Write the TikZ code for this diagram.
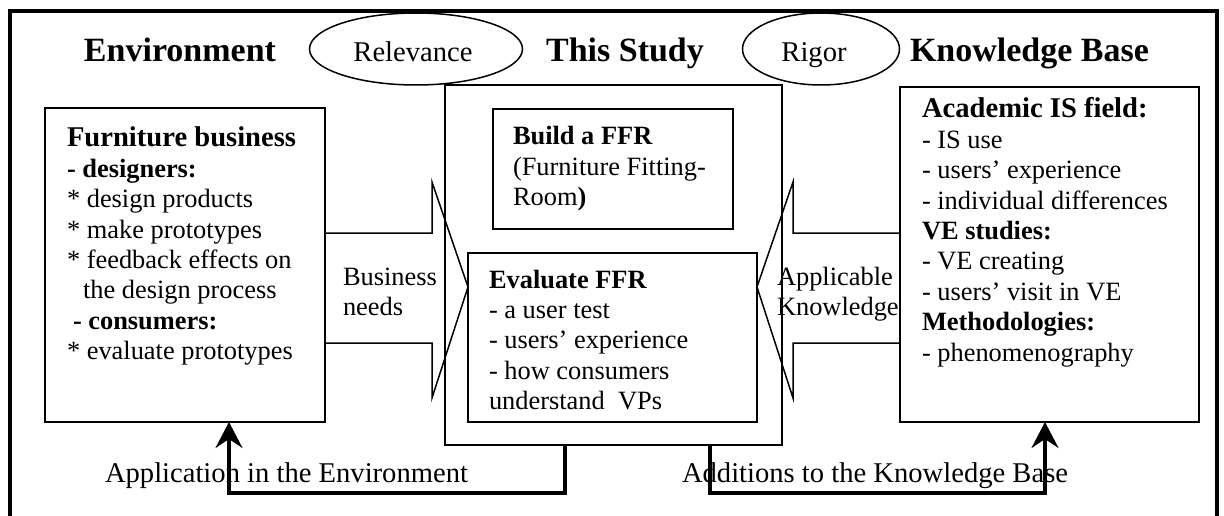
\documentclass[tikz,border=0pt]{standalone}
\usepackage{fontspec}
\setmainfont{Liberation Serif}
\usetikzlibrary{arrows.meta,shapes.geometric}
\newcommand\fsz{\fontsize{26.4}{30.4}\selectfont}
\newcommand\fmz{\fontsize{28.6}{30.4}\selectfont}
\newcommand\flz{\fontsize{34}{40}\selectfont}
\begin{document}
\begin{tikzpicture}[x=1pt,y=-1pt,
  box/.style={draw,line width=2pt,inner sep=0pt,outer sep=0pt},
  ell/.style={draw,ellipse,line width=1.5pt,inner sep=0pt,outer sep=0pt},
  txt/.style={inner sep=0pt,outer sep=0pt,anchor=base west,font=\fsz},
  title/.style={inner sep=0pt,outer sep=0pt,anchor=base,font=\flz\bfseries},
  blockarrow/.style={draw,line width=1.5pt,line join=miter},
  conn/.style={line width=3.2pt,line join=miter,-{Stealth[length=26pt,width=27pt,inset=9pt]}}]
\useasboundingbox (0,0) rectangle (1224,516);
% outer frame
\draw[line width=4pt] (10.3,530) -- (10.3,10.6) -- (1217,10.6) -- (1217,530);
% titles
\node[title] (tenv) at (180,62) {Environment};
\node[title] (tstudy) at (625,62) {This Study};
\node[title,anchor=base west] (tkb) at (910,62) {Knowledge Base};
% ellipses
\node[ell,minimum width=213pt,minimum height=72pt] (rel) at (416,49) {};
\node[txt,anchor=base,font=\fmz] (trel) at (413,62) {Relevance};
\node[ell,minimum width=157pt,minimum height=72pt] (rig) at (821,49) {};
\node[txt,anchor=base,font=\fmz] (trig) at (814,62) {Rigor};
% boxes
\node[box,minimum width=280pt,minimum height=314pt] (env) at (185,265) {};
\node[box,minimum width=299pt,minimum height=335pt] (kb) at (1049.5,254.5) {};
\node[box,minimum width=337pt,minimum height=360pt] (study) at (613.5,265) {};
\node[box,minimum width=240pt,minimum height=120pt] (build) at (613,169) {};
\node[box,minimum width=289pt,minimum height=169pt] (eval) at (612.5,337.5) {};
% box texts
\node[txt] (envtext) at (67,147) {\begin{tabular}[t]{@{}l@{}}
{\fmz\bfseries Furniture business}\\
\textbf{- designers:}\\
{*} design products\\
{*} make prototypes\\
{*} feedback effects on\\
\hspace{16pt}the design process\\
\hspace{6pt}\textbf{- consumers:}\\
{*} evaluate prototypes
\end{tabular}};
\node[txt] (buildtext) at (513,145) {\begin{tabular}[t]{@{}l@{}}
\textbf{Build a FFR}\\
(Furniture Fitting-\\
Room\textbf{)}
\end{tabular}};
\node[txt] (evaltext) at (489,288) {\begin{tabular}[t]{@{}l@{}}
\textbf{Evaluate FFR}\\
- a user test\\
- users’ experience\\
- how consumers\\
understand\ \ VPs
\end{tabular}};
\node[txt] (kbtext) at (922,118) {\begin{tabular}[t]{@{}l@{}}
{\fmz\bfseries Academic IS field:}\\
- IS use\\
- users’ experience\\
- individual differences\\
\textbf{VE studies:}\\
- VE creating\\
- users’ visit in VE\\
\textbf{Methodologies:}\\
- phenomenography
\end{tabular}};
% block arrows
\draw[blockarrow] (325,233) -- (432,233) -- (432,182) -- (468,287) -- (432,398) -- (432,343) -- (325,343);
\draw[blockarrow] (900,233) -- (793,233) -- (793,182) -- (757,287) -- (793,398) -- (793,343) -- (900,343);
\node[txt] (bneeds) at (343,285) {\begin{tabular}[t]{@{}l@{}}Business\\needs\end{tabular}};
\node[txt] (aknow) at (777,285) {\begin{tabular}[t]{@{}l@{}}Applicable\\Knowledge\end{tabular}};
% bottom labels
\node[txt,font=\fmz] (lapp) at (105,482) {Application in the Environment};
\node[txt,font=\fmz] (ladd) at (682,482) {Additions to the Knowledge Base};
% bottom connectors
\coordinate (a1) at (565,445);
\coordinate (a2) at (229,493);
\coordinate (b1) at (710,445);
\coordinate (b2) at (1045,493);
\draw[conn] (a1) |- (a2) -- (a2 |- env.south);
\draw[conn] (b1) |- (b2) -- (b2 |- kb.south);
\end{tikzpicture}
\end{document}
